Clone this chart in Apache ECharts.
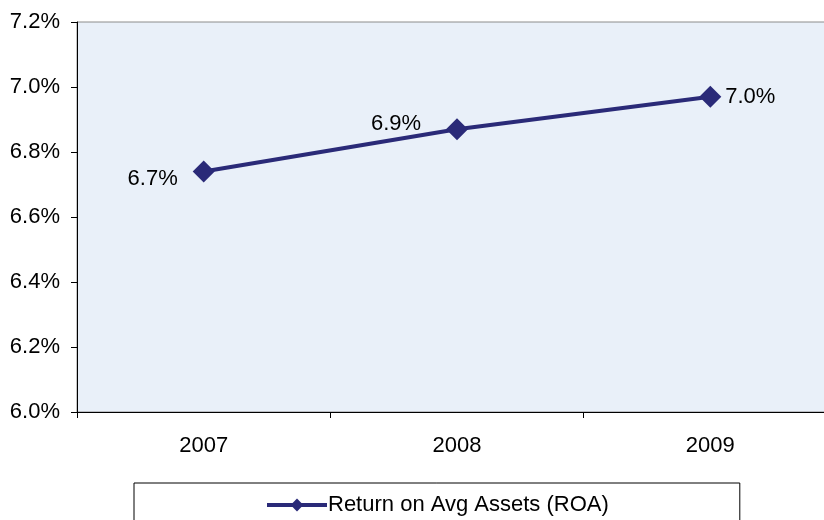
<!DOCTYPE html>
<html>
<head>
<meta charset="utf-8">
<script src="https://cdn.jsdelivr.net/npm/echarts@6/dist/echarts.min.js"></script>
<style>
  html, body { margin: 0; padding: 0; background: #fff; overflow: hidden; }
  /* the plot runs past the right edge of the picture, so the canvas is a bit wider than the window */
  #chart { width: 837px; height: 520px; }
</style>
</head>
<body>
<div id="chart"></div>
<script>
// data
const years = ["2007", "2008", "2009"];
const roa = [6.74, 6.87, 6.97];
const labelOffsets = [[-51, 7], [-61, -5], [40, 0]];

const font = "Liberation Sans, Arial, sans-serif";
const navy = "#2a2a78";

const chart = echarts.init(document.getElementById("chart"));

const option = {
  animation: false,
  grid: {
    left: 77,
    top: 22,
    bottom: 108,
    right: 0,
    show: true,
    backgroundColor: "#e9f0f9",
    borderColor: "#8c8c8c",
    borderWidth: 1,
  },
  xAxis: {
    type: "category",
    data: years,
    boundaryGap: true,
    axisLine: { lineStyle: { color: "#000", width: 1 } },
    axisTick: { show: true, length: 6, lineStyle: { color: "#000", width: 1 } },
    axisLabel: { color: "#000", fontSize: 22, fontFamily: font, margin: 23 },
  },
  yAxis: {
    type: "value",
    min: 6.0,
    max: 7.2,
    interval: 0.2,
    axisLine: { show: true, lineStyle: { color: "#000", width: 1 } },
    axisTick: { show: true, length: 6, lineStyle: { color: "#000" } },
    splitLine: { show: false },
    axisLabel: {
      color: "#000",
      fontSize: 22,
      fontFamily: font,
      margin: 17,
      formatter: (v) => v.toFixed(1) + "%",
    },
  },
  legend: {
    left: 134,
    top: 483,
    padding: [11, 131, 20, 131],
    borderColor: "#000",
    borderWidth: 1,
    itemWidth: 60,
    itemHeight: 16,
    itemGap: 2,
    lineStyle: { width: 4 },
    textStyle: { color: "#000", fontSize: 22, fontFamily: font, padding: [0, 0, 0, -4] },
    data: ["Return on Avg Assets (ROA)"],
  },
  series: [
    {
      name: "Return on Avg Assets (ROA)",
      type: "line",
      data: roa.map((v, i) => ({
        value: v,
        label: { offset: labelOffsets[i] },
      })),
      symbol: "diamond",
      symbolSize: 22,
      lineStyle: { color: navy, width: 4 },
      itemStyle: { color: navy },
      label: {
        show: true,
        position: "inside",
        color: "#000",
        fontSize: 22,
        fontFamily: font,
        formatter: (p) => p.value.toFixed(1) + "%",
      },
    },
  ],
};

chart.setOption(option);
</script>
</body>
</html>
